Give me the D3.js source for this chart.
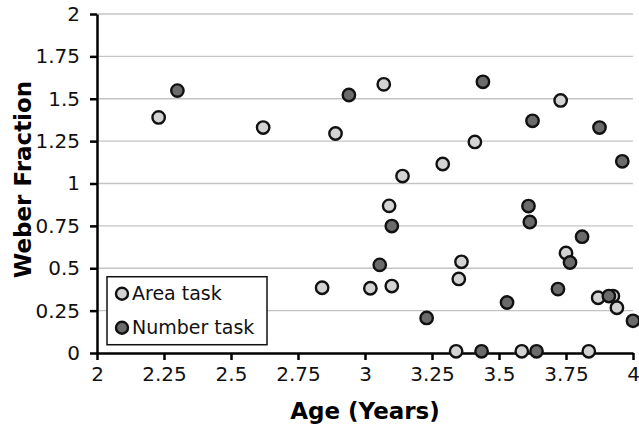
<!DOCTYPE html>
<html>
<head>
  <meta charset="utf-8">
  <script src="https://d3js.org/d3.v7.min.js"></script>
  <style>
  body { margin: 0; background: #fff; }
  * { font-family: "DejaVu Sans", Verdana, sans-serif; }
  </style>
</head>
<body>
<div id="chart"></div>
<script>
// Area task (light markers)
const areaAge = [2.23, 2.62, 2.89, 3.07, 2.84, 3.02, 3.10, 3.09, 3.14, 3.29, 3.41, 3.36, 3.35,
                 3.34, 3.585, 3.835, 3.73, 3.75, 3.87, 3.925, 3.94];
const areaWeber = [1.39, 1.33, 1.295, 1.585, 0.385, 0.382, 0.395, 0.868, 1.044, 1.115, 1.245, 0.538, 0.437,
                   0.01, 0.01, 0.01, 1.49, 0.59, 0.326, 0.336, 0.267];
// Number task (dark markers)
const numberAge = [2.30, 2.94, 3.10, 3.055, 3.23, 3.435, 3.44, 3.53, 3.61, 3.615, 3.64, 3.625,
                   3.72, 3.765, 3.81, 3.875, 3.91, 3.96, 4.0];
const numberWeber = [1.548, 1.522, 0.749, 0.52, 0.207, 0.01, 1.60, 0.298, 0.867, 0.773, 0.01, 1.37,
                     0.377, 0.534, 0.686, 1.33, 0.336, 1.131, 0.19];

const xTicks = [2, 2.25, 2.5, 2.75, 3, 3.25, 3.5, 3.75, 4];
const yTicks = [0, 0.25, 0.5, 0.75, 1, 1.25, 1.5, 1.75, 2];
const seriesNames = ["Area task", "Number task"];
const seriesFill = ["#d3d3d3", "#6b6b6b"];

const W = 639, H = 425;
const margin = { top: 14, right: 6, bottom: 72, left: 97 };
const width = W - margin.left - margin.right;
const height = H - margin.top - margin.bottom;

const svg = d3.select("#chart").append("svg")
  .attr("width", W).attr("height", H)
  .append("g")
  .attr("transform", `translate(${margin.left},${margin.top})`);

const x = d3.scaleLinear().domain([2, 4]).range([0, width]);
const y = d3.scaleLinear().domain([0, 2]).range([height, 0]);

// gridlines
svg.append("g")
  .selectAll("line")
  .data(yTicks.filter(d => d > 0))
  .join("line")
  .attr("x1", 0).attr("x2", width)
  .attr("y1", d => y(d)).attr("y2", d => y(d))
  .attr("stroke", "#c4c4c4").attr("stroke-width", 1.3);

// x axis
const fmt = d => String(d);
const xAxis = svg.append("g")
  .attr("transform", `translate(0,${height})`)
  .call(d3.axisBottom(x).tickValues(xTicks).tickFormat(fmt).tickSize(7).tickSizeOuter(0));
xAxis.select(".domain").attr("stroke", "#000").attr("stroke-width", 2.5);
xAxis.selectAll(".tick line").attr("stroke", "#000").attr("stroke-width", 2.5);
xAxis.selectAll("text").style("font-size", "20px").attr("fill", "#111").attr("dy", "0.95em").attr("y", 9);

// y axis
const yAxis = svg.append("g")
  .call(d3.axisLeft(y).tickValues(yTicks).tickFormat(fmt).tickSize(7).tickSizeOuter(0));
yAxis.select(".domain").attr("stroke", "#000").attr("stroke-width", 2.5);
yAxis.selectAll(".tick line").attr("stroke", "#000").attr("stroke-width", 2.5);
yAxis.selectAll("text").style("font-size", "20px").attr("fill", "#111").attr("x", -17);

// axis titles
svg.append("text")
  .attr("x", x(3)).attr("y", height + 66)
  .attr("text-anchor", "middle")
  .style("font-size", "23px").style("font-weight", "bold")
  .text("Age (Years)");
svg.append("text")
  .attr("transform", `translate(${-margin.left + 31},${y(1) - 4}) rotate(-90)`)
  .attr("text-anchor", "middle")
  .style("font-size", "23px").style("font-weight", "bold")
  .text("Weber Fraction");

// markers
const areaPts = areaAge.map((a, i) => ({ a, w: areaWeber[i] }));
const numPts = numberAge.map((a, i) => ({ a, w: numberWeber[i] }));
[areaPts, numPts].forEach((pts, s) => {
  svg.append("g").selectAll("circle")
    .data(pts)
    .join("circle")
    .attr("cx", d => x(d.a))
    .attr("cy", d => y(d.w))
    .attr("r", 6.2)
    .attr("fill", seriesFill[s])
    .attr("stroke", "#111")
    .attr("stroke-width", 2.4);
});

// legend
const lg = svg.append("g").attr("transform", `translate(10,${y(0.45)})`);
lg.append("rect")
  .attr("x", 0).attr("y", 0).attr("width", 160).attr("height", 68)
  .attr("fill", "#fff").attr("stroke", "#111").attr("stroke-width", 1.5);
seriesNames.forEach((name, i) => {
  lg.append("circle")
    .attr("cx", 15).attr("cy", 17 + i * 34).attr("r", 6)
    .attr("fill", seriesFill[i]).attr("stroke", "#111").attr("stroke-width", 2.4);
  lg.append("text")
    .attr("x", 25).attr("y", 17 + i * 34).attr("dy", "0.35em")
    .style("font-size", "19px").attr("fill", "#111")
    .text(name);
});
</script>
</body>
</html>
